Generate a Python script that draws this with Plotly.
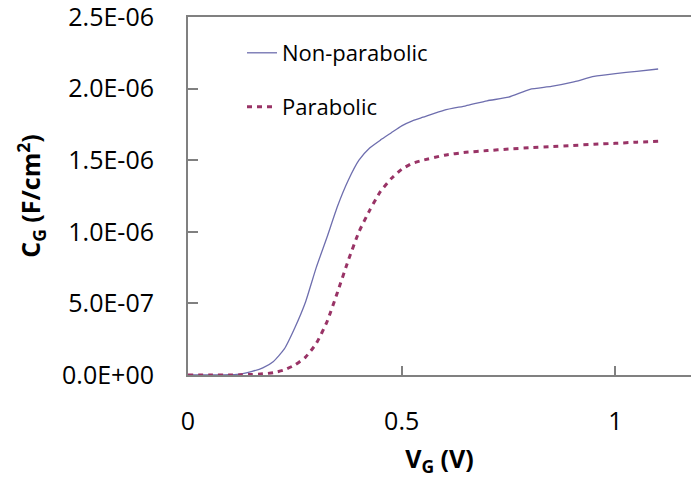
import plotly.graph_objects as go

# Gate voltage (V)
vg = [0, 0.05, 0.1, 0.125, 0.15, 0.175, 0.2, 0.225, 0.25, 0.275, 0.3, 0.325, 0.35,
      0.375, 0.4, 0.425, 0.45, 0.475, 0.5, 0.525, 0.55, 0.6, 0.65, 0.7, 0.75, 0.8, 0.85,
      0.9, 0.95, 1.0, 1.05, 1.1]

# Gate capacitance (F/cm^2)
cg_nonparabolic = [0, 0, 2e-9, 8e-9, 2.5e-8, 5e-8, 9.5e-8, 1.8e-7, 3.3e-7, 5.1e-7, 7.5e-7,
                   9.6e-7, 1.18e-6, 1.36e-6, 1.50e-6, 1.585e-6, 1.64e-6, 1.69e-6, 1.74e-6,
                   1.775e-6, 1.80e-6, 1.85e-6, 1.88e-6, 1.915e-6, 1.94e-6, 1.995e-6, 2.015e-6,
                   2.045e-6, 2.085e-6, 2.105e-6, 2.12e-6, 2.137e-6]
cg_parabolic = [0, 0, 0, 1e-9, 4e-9, 8e-9, 1.6e-8, 3.5e-8, 7e-8, 1.25e-7, 2.2e-7, 3.7e-7,
                5.8e-7, 8.0e-7, 1.0e-6, 1.15e-6, 1.28e-6, 1.37e-6, 1.437e-6, 1.478e-6,
                1.50e-6, 1.535e-6, 1.555e-6, 1.567e-6, 1.578e-6, 1.587e-6, 1.595e-6,
                1.603e-6, 1.611e-6, 1.618e-6, 1.626e-6, 1.632e-6]

x_tickvals = [0, 0.5, 1]
x_ticktext = ["0", "0.5", "1"]
y_tickvals = [0, 5e-7, 1e-6, 1.5e-6, 2e-6, 2.5e-6]
y_ticktext = ["0.0E+00", "5.0E-07", "1.0E-06", "1.5E-06", "2.0E-06", "2.5E-06"]

FONT = "Open Sans"

fig = go.Figure()
fig.add_trace(go.Scatter(
    x=vg, y=cg_nonparabolic, mode="lines", name="Non-parabolic",
    line=dict(color="#6E6EAE", width=1.3, shape="spline", smoothing=0.5),
    legend="legend",
))
fig.add_trace(go.Scatter(
    x=vg, y=cg_parabolic, mode="lines", name="Parabolic",
    line=dict(color="#993366", width=3, dash="5px,5px", shape="spline", smoothing=0.5),
    legend="legend2",
))

legend_common = dict(
    font=dict(family=FONT, size=22, color="#000000"),
    bgcolor="rgba(0,0,0,0)", borderwidth=0,
    xanchor="left", yanchor="middle", xref="paper", yref="paper",
)

fig.update_layout(
    width=691, height=487,
    margin=dict(l=188, r=0, t=17, b=112),
    paper_bgcolor="white", plot_bgcolor="white",
    font=dict(family=FONT, size=22, color="#000000"),
    showlegend=True,
    legend=dict(x=(242 - 188) / 503, y=(375 - 53) / 358, **legend_common),
    legend2=dict(x=(242 - 188) / 503, y=(375 - 107) / 358, **legend_common),
    xaxis=dict(
        range=[0, 503 / 427.4],
        tickvals=x_tickvals, ticktext=x_ticktext,
        ticks="inside", ticklen=9, tickwidth=1.5, tickcolor="#808080",
        showline=True, linecolor="#808080", linewidth=2, mirror=True,
        showgrid=False, zeroline=False,
        tickfont=dict(family=FONT, size=25),
        ticklabelstandoff=23, ticklabeloverflow="allow",
        title=dict(text="<b>V<sub>G</sub> (V)</b>", font=dict(family=FONT, size=25), standoff=14),
    ),
    yaxis=dict(
        range=[0, 2.5e-6],
        tickvals=y_tickvals, ticktext=y_ticktext,
        ticks="inside", ticklen=10, tickwidth=1.5, tickcolor="#808080",
        showline=True, linecolor="#808080", linewidth=2, mirror=False,
        showgrid=False, zeroline=False,
        tickfont=dict(family=FONT, size=25),
        ticklabelstandoff=27, ticklabeloverflow="allow",
        title=dict(text="<b>C<sub>G</sub> (F/cm<sup>2</sup>)</b>", font=dict(family=FONT, size=25), standoff=14),
    ),
)

fig.write_html("out.html")
